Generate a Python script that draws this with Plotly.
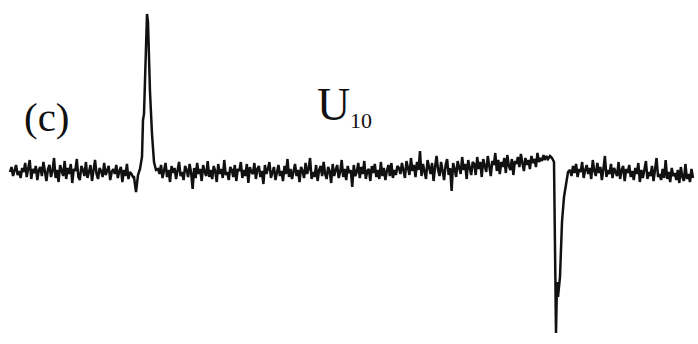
import numpy as np
import plotly.graph_objects as go

# Signal amplitude (arbitrary units, baseline 0)
seg_a_x = (10, 133)
seg_a = [0, 5, -4, 2, 7, -3, 1, -6, 4, 0, 9, -5, 2, 12, -7, 3, -1, 6, -8, 2, 5, -4, 10, -2, -9, 3,
         7, -5, 1, 14, -6, 2, -10, 7, 0, -4, 11, -7, 4, -2, 8, -11, 3, 1, 13, -5, -8, 6, 2, -4,
         10, -6, 0, 7, -9, 3, 12, -2, -7, 4, 1, -5, 9, -3, 2, 6, -8, 0, 3, -2, 7, -6, 1, 5, -10,
         2, -4, 8, -7, 0, -2, -5]

spike_up_x = [134, 136, 138, 140, 142, 143, 144, 146, 147, 148, 150, 152, 153, 154, 156]
spike_up = [-5, -20, -3, 3, 15, 52, 58, 125, 158, 150, 80, 38, 18, 10, 2]

seg_b_x = (158, 548)
seg_b = [3, -2, 7, -6, 1, 9, -5, 2, -10, 6, -1, 4, -7, 3, 10, -4, 0, -8, 6, 2, -5, 8, -1, -17, 4,
         -6, 9, -2, 3, -9, 7, 0, -4, 11, -5, 2, -7, 6, 1, -10, 8, -2, 3, -6, 12, -3, 0, -8, 5, 2,
         -5, 7, -9, 3, 1, 10, -6, 2, -4, 8, -11, 5, 0, -2, 9, -7, 3, 6, -5, 1, -12, 7, -2, 3, 10,
         -6, 0, 5, -8, 2,
         7, -4, 1, -9, 6, -2, 13, -5, 3, -7, 0, 8, -4, 2, -10, 5, 1, -6, 9, -2, 3, 14, -7, 0, -5,
         7, -9, 2, 6, -4,
         10, -2, -7, 5, 1, -11, 8, -4, 2, 7, -6, 0, 12, -5, 3, -8, 6, -1, 2, -15, 7, -4, 0, 9, -6,
         5, -2, 11, -7, 1,
         3, -9, 6, -1, 8, -5, 2, -7, 10, -4, 4, -8, 1, 7, -4, 9, -6, 2, -3, 6,
         4, -2, 9, 2, -6, 11, 3, -3, 14, 1, 7, -5, 10, 2, 21, -4, 8, 0, -7, 12, 4, -2, 9, -9, 5,
         16, 2, -4, 10, 1,
         -8, 7, 13, -3, 4, -19, 9, 3, -5, 11, 5, -2, 15, 2, 8, -7, 12, 4, -3, 10,
         8, -3, 15, 3, 10, -5, 13, 6, 0, 16, 4, -4, 11, 7, 19, 1, 12, -2, 10, 5, 14, -1, 17, 6,
         2, 13, -3, 11, 8, 15,
         5, 18, 9, 1, 14, 7, 12, 3, 16, 9, 13, 5, 19, 10, 14, 11, 17, 12, 16, 13]

spike_down_x = [550, 552, 554, 556, 557, 558, 560, 562, 564, 566, 568]
spike_down = [16, 14, 10, -161, -110, -125, -105, -50, -25, -12, 0]

seg_c_x = (570, 693)
seg_c = [2, -4, 6, -1, 8, -5, 3, 0, 10, -6, 2, 7, -2, 4, -7, 12, 1, -4, 9, -1, 5, -8, 3, 16, -5,
         2, -2, 8, -6, 4, 0, -4, 10, -7, 2, 6, -9, 3, -1, 7,
         -5, 1, -8, 4, -2, 9, -10, 2, -6, 3, 11, -7, 0, -4, 6, -9, 1, 14, -5, -2, -8, 3, -6, 12,
         -7, 0, -10, 4, -4, -1, -8, 2, -11, 5, -5, -9, 8, -7, -2, -10, 3, -6]


def spread(rng, vals):
    return list(np.linspace(rng[0], rng[1], len(vals)))


xs = spread(seg_a_x, seg_a) + spike_up_x + spread(seg_b_x, seg_b) + spike_down_x + spread(seg_c_x, seg_c)
ys = seg_a + spike_up + seg_b + spike_down + seg_c

fig = go.Figure()
fig.add_trace(go.Scatter(x=xs, y=ys, mode="lines",
                         line=dict(color="#111111", width=2.5), hoverinfo="skip"))

font = "Liberation Serif, Times New Roman, serif"
fig.add_annotation(x=47, y=55, text="(c)", showarrow=False, xanchor="center", yanchor="middle",
                   font=dict(family=font, size=41, color="#111111"))
fig.add_annotation(x=333, y=68, text="U", showarrow=False, xanchor="center", yanchor="middle",
                   font=dict(family=font, size=46, color="#111111"))
fig.add_annotation(x=361, y=52, text="10", showarrow=False, xanchor="center", yanchor="middle",
                   font=dict(family=font, size=22, color="#111111"))

fig.update_layout(width=698, height=344, margin=dict(l=0, r=0, t=0, b=0),
                  paper_bgcolor="white", plot_bgcolor="white", showlegend=False)
fig.update_xaxes(range=[0, 698], visible=False, fixedrange=True)
fig.update_yaxes(range=[-172, 172], visible=False, fixedrange=True)

fig.write_html("out.html", config={"displayModeBar": False},
               post_script="document.body.style.margin='0';")
